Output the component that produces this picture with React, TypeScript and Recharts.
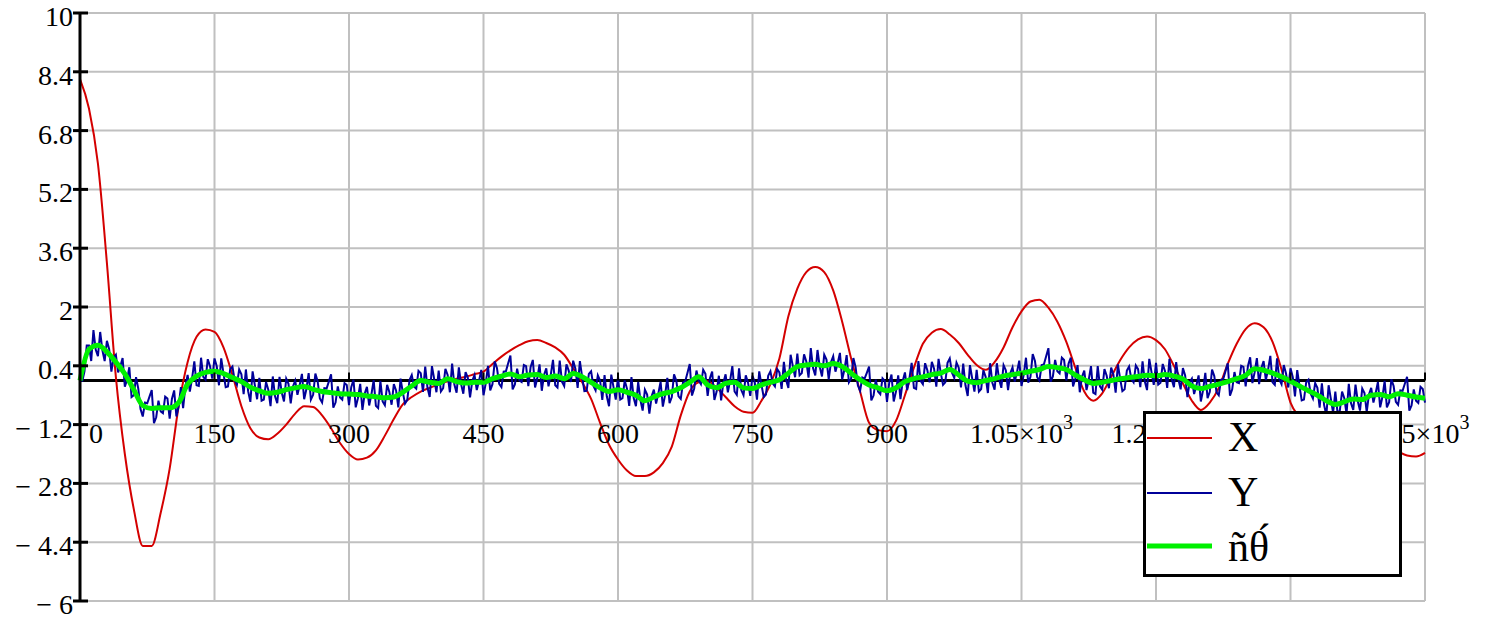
import React from "react";
import {
  LineChart,
  Line,
  XAxis,
  YAxis,
  CartesianGrid,
  ReferenceLine,
  Legend,
} from "recharts";

// x axis: 0..1500, labels sit just under the zero line (Mathcad style)
const X_TICKS = [0, 150, 300, 450, 600, 750, 900, 1050, 1200, 1350, 1500];
const X_TICK_LABELS = ["0", "150", "300", "450", "600", "750", "900", "1.05×10^3", "1.2×10^3", "1.35×10^3", "1.5×10^3"];

const Y_TICKS = [-6, -4.4, -2.8, -1.2, 0.4, 2, 3.6, 5.2, 6.8, 8.4, 10];
const Y_TICK_LABELS = ["− 6", "− 4.4", "− 2.8", "− 1.2", "0.4", "2", "3.6", "5.2", "6.8", "8.4", "10"];

const SERIES_NAMES = ["X", "Y", "ñθ́"];

// X (red), sampled every 10
const RED = [
  8.2, 7.4, 5.9, 3.2, 0.1, -2.0, -3.5, -4.5, -4.5, -3.6,
  -2.4, -0.7, 0.5, 1.19, 1.39, 1.32, 0.9, 0.15, -0.7, -1.3,
  -1.55, -1.6, -1.45, -1.2, -0.9, -0.7, -0.72, -0.95, -1.3, -1.7,
  -2.0, -2.15, -2.1, -1.9, -1.5, -1.05, -0.65, -0.45, -0.3, -0.2,
  -0.1, -0.02, 0.05, 0.1, 0.17, 0.24, 0.45, 0.65, 0.82, 0.96,
  1.07, 1.1, 1.02, 0.9, 0.7, 0.33, -0.05, -0.5, -1.15, -1.75,
  -2.15, -2.45, -2.6, -2.6, -2.5, -2.25, -1.8, -0.95, -0.3, -0.05,
  -0.02, -0.2, -0.45, -0.7, -0.85, -0.88, -0.55, -0.1, 0.6, 1.75,
  2.5, 2.95, 3.09, 2.95, 2.45, 1.6, 0.6, -0.3, -1.15, -1.35,
  -1.38, -1.1, -0.4, 0.35, 1.0, 1.3, 1.4, 1.25, 1.02, 0.7,
  0.42, 0.29, 0.5, 0.9, 1.45, 1.88, 2.15, 2.2, 1.98, 1.6,
  1.05, 0.35, -0.3, -0.55, -0.35, 0.1, 0.55, 0.9, 1.12, 1.2,
  1.1, 0.85, 0.4, -0.08, -0.55, -0.8, -0.6, -0.2, 0.45, 1.0,
  1.4, 1.56, 1.45, 1.05, 0.3, -0.6, -1.0, -1.3, -1.5, -1.6,
  -1.65, -1.65, -1.62, -1.6, -1.62, -1.7, -1.8, -1.93, -2.04, -2.07,
  -1.97,
];

// smoothed trace (green), sampled every 10
const GREEN = [
  0.0, 0.85, 0.96, 0.78, 0.5, 0.18, -0.25, -0.68, -0.76, -0.74,
  -0.74, -0.6, -0.1, 0.12, 0.22, 0.25, 0.19, 0.08, -0.03, -0.18,
  -0.28, -0.35, -0.32, -0.25, -0.2, -0.16, -0.24, -0.3, -0.33, -0.36,
  -0.37, -0.38, -0.42, -0.44, -0.47, -0.45, -0.32, -0.15, 0.0, -0.05,
  -0.08, 0.05, -0.03, -0.07, -0.05, -0.05, 0.05, 0.12, 0.18, 0.1,
  0.15, 0.16, 0.08, 0.12, 0.05, 0.19, 0.1, -0.05, -0.2, -0.3,
  -0.25, -0.32, -0.4, -0.55, -0.45, -0.36, -0.3, -0.2, -0.05, 0.1,
  -0.12, -0.2, -0.08, -0.05, -0.2, -0.22, -0.12, -0.05, 0.02, 0.2,
  0.38, 0.42, 0.44, 0.4, 0.46, 0.38, 0.2, 0.02, -0.12, -0.2,
  -0.28, -0.2, -0.03, 0.05, 0.1, 0.16, 0.2, 0.3, 0.15, -0.02,
  -0.06, 0.0, 0.05, 0.12, 0.16, 0.2, 0.25, 0.3, 0.38, 0.35,
  0.3, 0.15, 0.02, -0.08, -0.05, 0.0, 0.05, 0.08, 0.11, 0.14,
  0.13, 0.16, 0.12, 0.04, -0.15, -0.22, -0.16, -0.1, -0.03, 0.05,
  0.14, 0.32, 0.28, 0.2, 0.1, -0.02, -0.15, -0.28, -0.4, -0.55,
  -0.65, -0.58, -0.5, -0.52, -0.4, -0.38, -0.44, -0.36, -0.4, -0.45,
  -0.48,
];

// Y (blue, noisy) at x = 0, 5, 10, ...
const BLUE = [
  0.35, 0.25, 0.95, 1.37, 0.66, 0.82, 1.08, 0.24, 0.7, 0.39, -0.17, 0.36, -0.4, -0.22, -0.98, -0.62, -0.26, -1.0, -0.84, -0.44,
  -1.04, -0.27, -0.7, -0.75, 0.15, 0.06, -0.13, 0.62, 0.02, 0.39, 0.6, -0.13, 0.19, -0.16, 0.38, -0.12, 0.17, 0.3, -0.58, -0.13,
  0.07, -0.52, -0.25, 0.11, -0.62, -0.33, 0.05, -0.62, 0.0, -0.13, -0.51, 0.2, -0.39, -0.02, -0.6, -0.22, 0.17, -0.6, -0.46, -0.07,
  -0.67, 0.02, -0.48, -0.8, -0.17, -0.38, -0.69, -0.01, -0.67, -0.31, -0.1, -0.73, -0.32, -0.53, 0.15, -0.22, 0.2, 0.38, -0.45, 0.04,
  0.27, -0.21, 0.15, 0.46, -0.33, -0.1, 0.23, -0.46, 0.15, -0.01, -0.4, 0.4, -0.1, 0.34, -0.18, 0.25, 0.68, -0.11, 0.0, 0.42,
  -0.15, 0.56, 0.06, -0.28, 0.33, 0.15, -0.13, 0.54, -0.15, 0.27, 0.54, -0.2, 0.1, -0.28, 0.25, -0.27, 0.0, 0.15, -0.7, -0.18,
  0.1, -0.48, -0.22, 0.09, -0.7, -0.53, -0.25, -0.9, -0.25, -0.35, -0.71, 0.07, -0.45, 0.0, -0.5, -0.02, 0.45, -0.22, 0.0, 0.29,
  -0.42, 0.24, -0.3, -0.54, 0.17, -0.01, -0.3, 0.33, -0.4, -0.06, 0.13, -0.52, -0.12, -0.38, 0.25, -0.16, 0.22, 0.51, -0.2, 0.39,
  0.73, 0.2, 0.52, 0.88, 0.14, 0.37, 0.7, 0.03, 0.66, 0.47, 0.03, 0.69, 0.05, 0.36, -0.28, 0.05, 0.38, -0.41, -0.3, 0.06,
  -0.58, 0.16, -0.3, -0.51, 0.22, 0.06, -0.2, 0.53, -0.1, 0.28, 0.51, -0.17, 0.2, -0.05, 0.6, 0.07, 0.35, 0.46, -0.42, 0.06,
  0.29, -0.23, 0.1, 0.47, -0.25, 0.03, 0.42, -0.26, 0.36, 0.23, -0.15, 0.62, 0.1, 0.53, 0.0, 0.44, 0.88, 0.11, 0.25, 0.62,
  0.0, 0.62, 0.05, -0.32, 0.27, 0.02, -0.33, 0.39, -0.25, 0.13, 0.35, -0.33, 0.05, -0.24, 0.38, -0.05, 0.31, 0.52, -0.26, 0.23,
  0.48, -0.06, 0.26, 0.59, -0.18, 0.03, 0.34, -0.45, 0.05, -0.14, -0.57, 0.21, -0.31, 0.12, -0.4, 0.04, 0.47, -0.24, -0.05, 0.4,
  -0.16, 0.63, 0.22, -0.1, 0.53, 0.29, -0.05, 0.6, -0.1, 0.19, 0.33, -0.43, -0.15, -0.52, 0.02, -0.49, -0.2, -0.08, -0.95, -0.5,
  -0.3, -0.82, -0.48, -0.09, -0.8, -0.56, -0.22, -0.86, -0.2, -0.34, -0.73, -0.01, -0.59, -0.15, -0.66, -0.28, 0.1, -0.68, -0.55, -0.17,
  -0.6,
];

// Y (blue) in between, at x = 2.5, 7.5, 12.5, ...
const BLUE_MID = [
  -0.03, 0.95, 0.53, 0.84, 1.32, 0.53, 0.86, 0.62, 0.22, 0.61, 0.02, -0.45, 0.09, -0.78, -0.6, -0.44, -1.16, -0.55, -0.89, -0.49,
  -0.5, -0.98, -0.18, -0.17, -0.3, 0.52, -0.15, 0.1, 0.58, 0.05, 0.39, 0.6, -0.18, 0.31, 0.0, 0.3, -0.37, -0.29, 0.25, -0.51,
  -0.55, -0.04, -0.7, -0.43, 0.1, -0.57, -0.09, -0.16, -0.39, 0.18, -0.23, -0.52, 0.19, -0.49, -0.21, -0.03, -0.74, -0.16, -0.52, -0.12,
  -0.18, -0.73, -0.09, -0.36, -0.68, 0.01, -0.75, -0.57, -0.12, -0.66, -0.27, 0.05, -0.63, 0.01, -0.16, 0.26, -0.31, -0.19, 0.39, -0.32,
  -0.3, 0.32, -0.32, -0.11, 0.36, -0.36, 0.08, -0.01, -0.26, 0.29, -0.08, -0.27, 0.52, -0.09, 0.24, 0.47, -0.24, 0.32, -0.04, 0.39,
  0.36, -0.19, 0.44, 0.15, -0.16, 0.56, -0.19, -0.03, 0.44, -0.04, 0.32, 0.53, -0.29, 0.18, -0.14, 0.14, -0.53, -0.43, 0.16, -0.52,
  -0.52, 0.0, -0.69, -0.48, -0.04, -0.82, -0.38, -0.43, -0.63, -0.03, -0.4, -0.62, 0.17, -0.43, -0.06, 0.21, -0.41, 0.27, -0.1, 0.18,
  0.06, -0.53, 0.13, -0.06, -0.32, 0.39, -0.39, -0.26, 0.14, -0.42, -0.05, 0.25, -0.45, 0.13, -0.08, 0.31, -0.23, 0.01, 0.7, 0.09,
  0.14, 0.71, 0.08, 0.34, 0.83, 0.11, 0.57, 0.5, 0.24, 0.75, 0.29, -0.05, 0.61, -0.13, 0.08, 0.21, -0.54, 0.02, -0.37, -0.01,
  -0.06, -0.57, 0.14, -0.02, -0.26, 0.48, -0.23, -0.01, 0.47, -0.05, 0.32, 0.59, -0.12, 0.48, 0.21, 0.49, -0.19, -0.13, 0.42, -0.3,
  -0.3, 0.28, -0.34, -0.06, 0.47, -0.2, 0.28, 0.2, -0.03, 0.54, 0.16, -0.06, 0.72, 0.09, 0.42, 0.66, -0.03, 0.56, 0.19, 0.56,
  0.46, -0.16, 0.42, 0.1, -0.26, 0.39, -0.37, -0.16, 0.31, -0.21, 0.16, 0.44, -0.29, 0.27, 0.04, 0.41, -0.18, -0.02, 0.59, -0.12,
  -0.11, 0.45, -0.2, 0.03, 0.5, -0.24, 0.14, -0.05, -0.37, 0.14, -0.26, -0.48, 0.3, -0.32, 0.02, 0.25, -0.41, 0.23, -0.07, 0.37,
  0.39, -0.07, 0.61, 0.34, 0.01, 0.67, -0.12, 0.03, 0.42, -0.19, 0.1, 0.28, -0.54, -0.05, -0.36, -0.07, -0.74, -0.67, -0.13, -0.88,
  -0.89, -0.3, -0.91, -0.62, -0.11, -0.82, -0.34, -0.38, -0.6, -0.04, -0.45, -0.73, 0.03, -0.58, -0.27, -0.09, -0.82, -0.24, -0.61, -0.23,
];

const redData = RED.map((v, i) => ({ x: i * 10, v }));
const greenData = GREEN.map((v, i) => ({ x: i * 10, v }));
const blueData: { x: number; v: number }[] = [];
BLUE.forEach((v, i) => {
  blueData.push({ x: i * 5, v });
  if (i < BLUE_MID.length) blueData.push({ x: i * 5 + 2.5, v: BLUE_MID[i] });
});

const W = 1489;
const H = 619;
const MARGIN = { top: 13, right: 64, bottom: 0, left: 0 };
const X_AXIS_H = 18;
const PLOT_H = H - MARGIN.top - MARGIN.bottom - X_AXIS_H;
const Y_MIN = -6;
const Y_MAX = 10;
const SERIF = "'Liberation Serif', 'Times New Roman', serif";

function XTick(props: any) {
  const { x, y, payload } = props;
  const idx = X_TICKS.indexOf(payload.value);
  const label = X_TICK_LABELS[idx] ?? String(payload.value);
  // the x axis itself is the zero line, so labels hang under it
  const yZero = y - (PLOT_H * (0 - Y_MIN)) / (Y_MAX - Y_MIN);
  const [base, exp] = label.split("^");
  const first = payload.value === 0;
  return (
    <g>
      {!first && <line x1={x} x2={x} y1={yZero - 8} y2={yZero} stroke="#000" strokeWidth={2} />}
      <text
        x={first ? x + 9 : x}
        y={yZero + 62}
        textAnchor={first ? "start" : "middle"}
        style={{ fontFamily: SERIF, fontSize: 28 }}
        fill="#000"
      >
        {base}
        {exp && (
          <tspan dy={-14} style={{ fontSize: 20 }}>
            {exp}
          </tspan>
        )}
      </text>
    </g>
  );
}

function YTick(props: any) {
  const { x, y, payload } = props;
  const idx = Y_TICKS.indexOf(payload.value);
  const label = Y_TICK_LABELS[idx] ?? String(payload.value);
  return (
    <g>
      <line x1={x - 7} x2={x + 8} y1={y} y2={y} stroke="#000" strokeWidth={3} />
      <text x={x - 7} y={y + 13} textAnchor="end" style={{ fontFamily: SERIF, fontSize: 28 }} fill="#000">
        {label}
      </text>
    </g>
  );
}

function LegendBox() {
  const rows = [
    { color: "#d40000", width: 2, y: 27, base: 40 },
    { color: "#000099", width: 2, y: 82, base: 95 },
    { color: "#00f000", width: 5, y: 135, base: 150 },
  ];
  return (
    <svg width={259} height={166} style={{ display: "block" }}>
      <rect x={1.5} y={1.5} width={256} height={163} fill="#fff" stroke="#000" strokeWidth={3} />
      {rows.map((r, i) => (
        <g key={i}>
          <line x1={4} x2={69} y1={r.y} y2={r.y} stroke={r.color} strokeWidth={r.width} />
          <text x={85} y={r.base} style={{ fontFamily: SERIF, fontSize: 42 }} fill="#000">
            {SERIES_NAMES[i]}
          </text>
        </g>
      ))}
    </svg>
  );
}

export default function App() {
  return (
    <div style={{ position: "absolute", left: 0, top: 0, background: "#fff" }}>
      <LineChart width={W} height={H} margin={MARGIN}>
        <CartesianGrid stroke="#c0c0c0" strokeWidth={2} />
        <XAxis
          type="number"
          dataKey="x"
          domain={[0, 1500]}
          ticks={X_TICKS}
          interval={0}
          height={X_AXIS_H}
          axisLine={false}
          tickLine={false}
          tickSize={0}
          tickMargin={0}
          tick={<XTick />}
        />
        <YAxis
          type="number"
          domain={[Y_MIN, Y_MAX]}
          ticks={Y_TICKS}
          interval={0}
          width={80}
          axisLine={{ stroke: "#000", strokeWidth: 3 }}
          tickLine={false}
          tickSize={0}
          tickMargin={0}
          tick={<YTick />}
        />
        <ReferenceLine y={0} stroke="#000" strokeWidth={3} />
        <Line
          data={redData}
          dataKey="v"
          name="X"
          type="monotone"
          stroke="#d40000"
          strokeWidth={2}
          dot={false}
          isAnimationActive={false}
        />
        <Line
          data={blueData}
          dataKey="v"
          name="Y"
          type="linear"
          stroke="#000099"
          strokeWidth={2}
          dot={false}
          isAnimationActive={false}
        />
        <Line
          data={greenData}
          dataKey="v"
          name="smooth"
          type="monotone"
          stroke="#00f000"
          strokeWidth={5}
          dot={false}
          isAnimationActive={false}
        />
        <Legend
          layout="vertical"
          align="center"
          verticalAlign="middle"
          wrapperStyle={{ left: 1143, top: 411, width: 259, height: 166 }}
          content={() => <LegendBox />}
        />
      </LineChart>
    </div>
  );
}
